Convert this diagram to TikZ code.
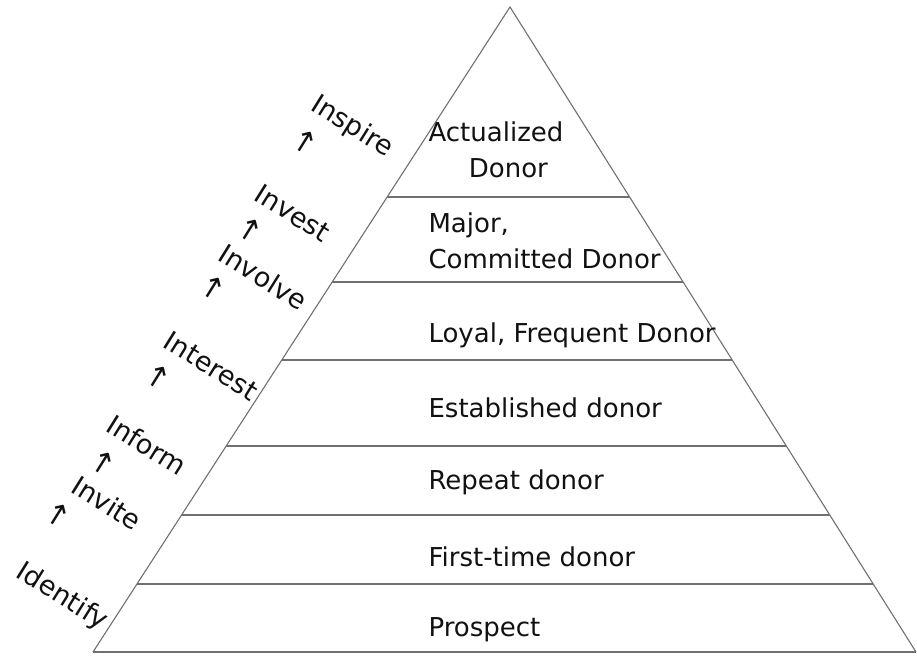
\documentclass[tikz,border=0pt]{standalone}
\usepackage{fontspec}
\setmainfont{DejaVu Sans}
\usepackage{xcolor}
\usetikzlibrary{calc}

\definecolor{edgegray}{HTML}{707070}
\definecolor{inkgray}{HTML}{111111}

\begin{document}
\begin{tikzpicture}[x=1pt, y=-1pt,
		level/.style={text=inkgray, anchor=west, align=left, font=\fontsize{26}{36}\selectfont},
		stage/.style={text=inkgray, rotate=-32, inner sep=0pt, font=\fontsize{27}{32}\selectfont},
		uparrow/.style={text=inkgray, rotate=-32, inner sep=0pt, font=\fontsize{30}{30}\selectfont}]
			\useasboundingbox (0,0) rectangle (917,656);
			
			% pyramid outline
			\coordinate (apex) at (510,7);
			\coordinate (left) at (93,652);
			\coordinate (right) at (916,652);
			\draw[edgegray, line width=1.1pt] (left) -- (apex) -- (right);
			\draw[edgegray, line width=1.8pt] (left) -- (right);
			
			% tiers
			\foreach \y in {197,282,360,446,515,584}
				\draw[edgegray, line width=1.8pt] ($(apex)!{(\y-7)/645}!(left)$) -- ($(apex)!{(\y-7)/645}!(right)$);
			
			\node[level] (actualized) at (425,150) {Actualized\\\hspace*{1.55em}Donor};
			\node[level] (major) at (425,241) {Major,\\Committed Donor};
			\node[level] (loyal) at (425,335) {Loyal, Frequent Donor};
			\node[level] (established) at (425,408) {Established donor};
			\node[level] (repeat) at (425,482) {Repeat donor};
			\node[level] (firsttime) at (425,557) {First-time donor};
			\node[level] (prospect) at (425,630) {Prospect};
			
			\node[stage] (inspire) at (352,127) {Inspire};
			\node[uparrow] (a1) at (305,142) {↑};
			\node[stage] (invest) at (293,213) {Invest};
			\node[uparrow] (a2) at (250,230) {↑};
			\node[stage] (involve) at (263,277) {Involve};
			\node[uparrow] (a3) at (213,288) {↑};
			\node[stage] (interest) at (211,366) {Interest};
			\node[uparrow] (a4) at (158,377) {↑};
			\node[stage] (inform) at (147,445) {Inform};
			\node[uparrow] (a5) at (103,463) {↑};
			\node[stage] (invite) at (107,503) {Invite};
			\node[uparrow] (a6) at (58,515) {↑};
			\node[stage] (identify) at (62,597) {Identify};

		\end{tikzpicture}
\end{document}
